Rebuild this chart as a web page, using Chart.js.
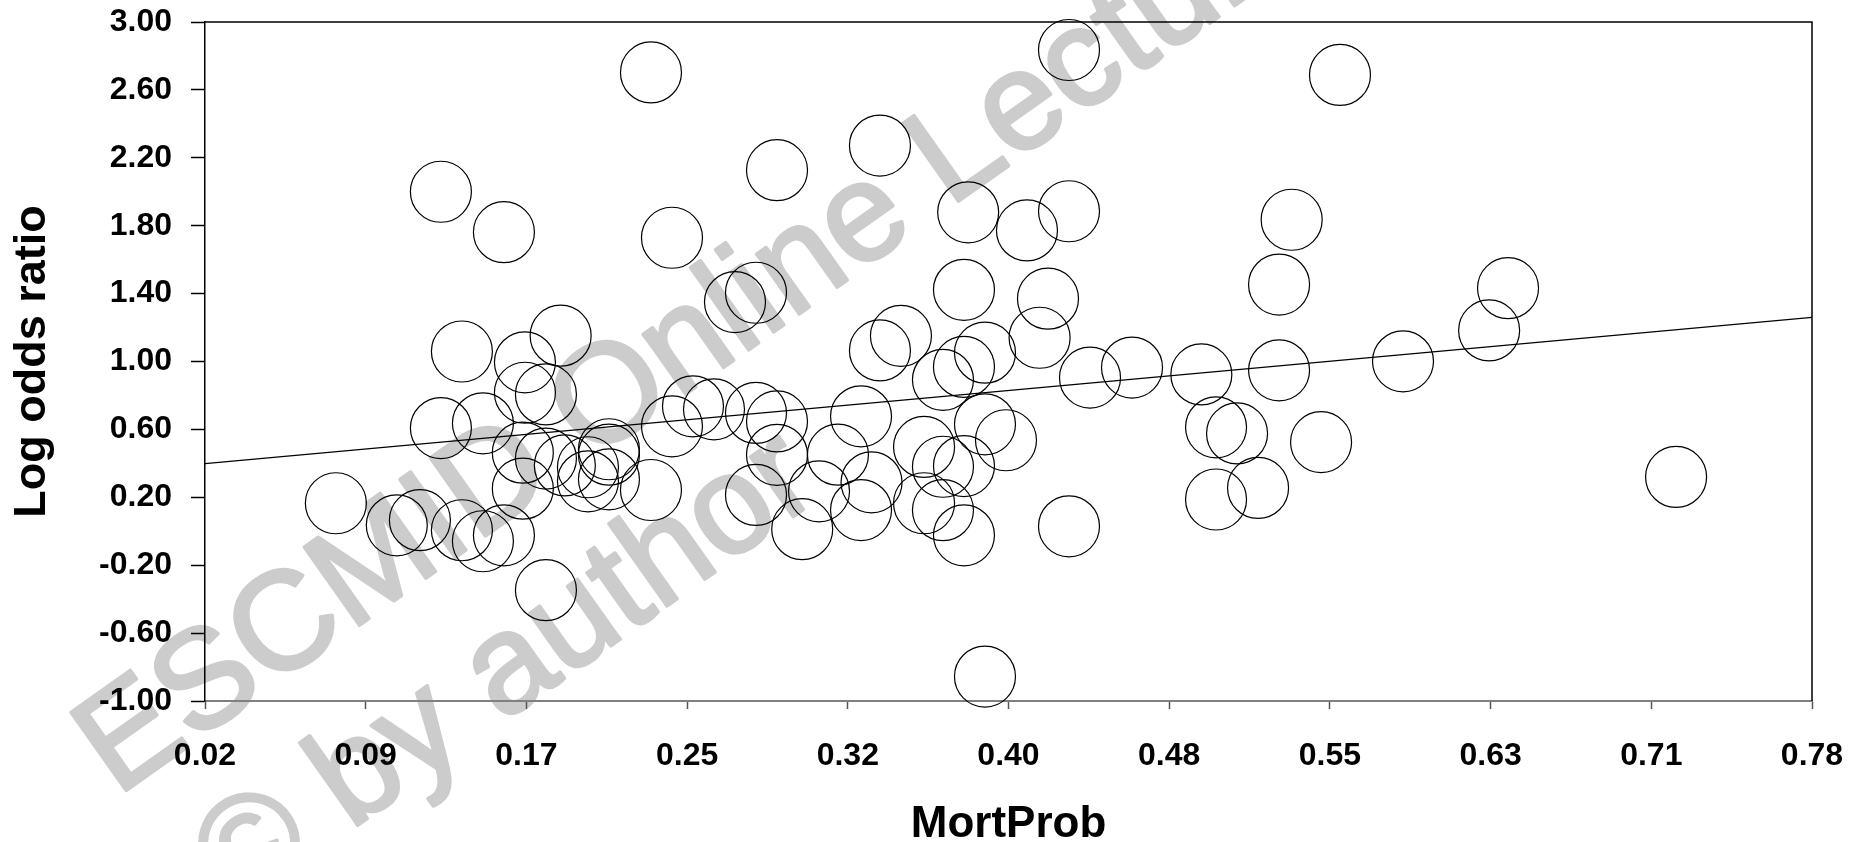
<!DOCTYPE html>
<html>
<head>
<meta charset="utf-8">
<script src="https://cdn.jsdelivr.net/npm/chart.js@4.4.1/dist/chart.umd.min.js"></script>
<style>
  html, body { margin: 0; padding: 0; background: #ffffff; }
  #wrap { width: 1857px; height: 842px; }
</style>
</head>
<body>
<div id="wrap"><canvas id="oddsChart" width="1857" height="842"></canvas></div>
<script>
// values
const mortProb = [
  0.080, 0.109, 0.120, 0.140, 0.150, 0.160, 0.180, 0.130, 0.160, 0.140,
  0.170, 0.187, 0.170, 0.180, 0.130, 0.150, 0.169, 0.169, 0.180, 0.189,
  0.200, 0.210, 0.210, 0.200, 0.210, 0.230, 0.230, 0.290, 0.339, 0.240,
  0.270, 0.280, 0.381, 0.409, 0.429, 0.379, 0.419, 0.339, 0.349, 0.369,
  0.379, 0.389, 0.415, 0.439, 0.459, 0.492, 0.429, 0.240, 0.250, 0.260,
  0.280, 0.290, 0.290, 0.280, 0.302, 0.310, 0.319, 0.330, 0.335, 0.360,
  0.369, 0.379, 0.360, 0.369, 0.379, 0.389, 0.399, 0.389, 0.429, 0.330,
  0.535, 0.529, 0.558, 0.529, 0.499, 0.509, 0.549, 0.519, 0.499, 0.588,
  0.629, 0.638, 0.718
];
const logOdds = [
  0.165, 0.035, 0.065, 0.006, -0.059, -0.024, -0.347, 2.000, 1.762, 1.059,
  0.995, 1.152, 0.816, 0.806, 0.608, 0.636, 0.463, 0.251, 0.428, 0.388,
  0.377, 0.483, 0.451, 0.294, 0.306, 0.243, 2.703, 2.127, 2.272, 1.729,
  1.350, 1.405, 1.879, 1.772, 1.885, 1.422, 1.370, 1.065, 1.151, 0.892,
  0.968, 1.052, 1.140, 0.905, 0.964, 0.924, 2.835, 0.618, 0.736, 0.718,
  0.697, 0.647, 0.450, 0.214, 0.012, 0.235, 0.451, 0.677, 0.288, 0.497,
  0.380, 0.384, 0.165, 0.124, -0.024, 0.630, 0.536, -0.856, 0.029, 0.125,
  1.835, 1.453, 2.688, 0.948, 0.612, 0.576, 0.525, 0.255, 0.187, 1.001,
  1.183, 1.432, 0.320
];

// fitted line, two ends
const fitX = [0.0177, 0.7827];
const fitY = [0.398, 1.26];

// axes
const xMin = 0.0177;
const xStep = 0.0765;
const xTickLabels = ["0.02", "0.09", "0.17", "0.25", "0.32", "0.40", "0.48", "0.55", "0.63", "0.71", "0.78"];
const yMin = -1;
const yStep = 0.4;
const yTickLabels = ["-1.00", "-0.60", "-0.20", "0.20", "0.60", "1.00", "1.40", "1.80", "2.20", "2.60", "3.00"];

const watermarkLines = ["ESCMID Online Lecture Library", "© by author"];

const FONT = '"Liberation Sans", Arial, Helvetica, sans-serif';

const myPoints = mortProb.map((x, i) => ({ x: x, y: logOdds[i] }));
const myFitLine = fitX.map((x, i) => ({ x: x, y: fitY[i] }));

const backgroundPlugin = {
  id: "background",
  beforeDraw(chart) {
    const ctx = chart.ctx;
    ctx.save();
    ctx.fillStyle = "#ffffff";
    ctx.fillRect(0, 0, chart.width, chart.height);

    // watermark, under everything
    ctx.fillStyle = "#cccccc";
    ctx.strokeStyle = "#cccccc";
    ctx.lineWidth = 3.5;
    ctx.lineJoin = "round";
    ctx.font = "139px " + FONT;
    ctx.textBaseline = "alphabetic";
    ctx.translate(117, 797);
    ctx.rotate((-35.3 * Math.PI) / 180);
    ctx.fillText(watermarkLines[0], 0, 0);
    ctx.strokeText(watermarkLines[0], 0, 0);
    ctx.fillText(watermarkLines[1], 30, 162);
    ctx.strokeText(watermarkLines[1], 30, 162);
    ctx.restore();
  },
};

const framePlugin = {
  id: "frame",
  afterDraw(chart) {
    const { left, right, top, bottom } = chart.chartArea;
    const ctx = chart.ctx;
    ctx.save();
    ctx.strokeStyle = "#000000";
    ctx.lineWidth = 1.5;
    ctx.beginPath();
    ctx.moveTo(left, top);
    ctx.lineTo(right, top);
    ctx.lineTo(right, bottom);
    ctx.stroke();
    ctx.restore();
  },
};

const ctx = document.getElementById("oddsChart").getContext("2d");
new Chart(ctx, {
  type: "scatter",
  data: {
    datasets: [
      {
        data: myPoints,
        pointStyle: "circle",
        pointRadius: 30.5,
        pointBorderWidth: 1.2,
        pointBorderColor: "#000000",
        pointBackgroundColor: "rgba(0,0,0,0)",
        clip: false,
      },
      {
        type: "line",
        data: myFitLine,
        borderColor: "#000000",
        borderWidth: 1.2,
        pointRadius: 0,
        fill: false,
      },
    ],
  },
  options: {
    responsive: false,
    animation: false,
    devicePixelRatio: 1,
    layout: { autoPadding: false, padding: { top: 22, right: 45, bottom: 0, left: 0 } },
    plugins: {
      legend: { display: false },
      tooltip: { enabled: false },
    },
    scales: {
      x: {
        type: "linear",
        min: xMin,
        max: xMin + xStep * (xTickLabels.length - 1),
        afterBuildTicks: (scale) => {
          scale.ticks = xTickLabels.map((_, i) => ({ value: xMin + i * xStep }));
        },
        afterFit: (scale) => {
          scale.height = 141;
          scale.paddingLeft = 0;
          scale.paddingRight = 0;
        },
        grid: {
          drawOnChartArea: false,
          drawTicks: true,
          tickLength: 8,
          tickColor: "#555555",
          tickWidth: 1.5,
        },
        border: { display: true, color: "#808080", width: 2 },
        ticks: {
          autoSkip: false,
          maxRotation: 0,
          padding: 28,
          color: "#000000",
          font: { family: FONT, size: 32, weight: "bold" },
          callback: (value, index) => xTickLabels[index],
        },
        title: {
          display: true,
          text: "MortProb",
          color: "#000000",
          padding: 0,
          font: { family: FONT, size: 44, weight: "bold", lineHeight: 0.8 },
        },
      },
      y: {
        type: "linear",
        min: yMin,
        max: yMin + yStep * (yTickLabels.length - 1),
        afterBuildTicks: (scale) => {
          scale.ticks = yTickLabels.map((_, i) => ({ value: yMin + i * yStep }));
        },
        afterFit: (scale) => {
          scale.width = 205;
          scale.paddingTop = 0;
          scale.paddingBottom = 0;
        },
        grid: {
          drawOnChartArea: false,
          drawTicks: true,
          tickLength: 14,
          tickColor: "#000000",
          tickWidth: 1.5,
        },
        border: { display: true, color: "#000000", width: 1.5 },
        ticks: {
          autoSkip: false,
          padding: 19,
          color: "#000000",
          font: { family: FONT, size: 32, weight: "bold" },
          callback: (value, index) => yTickLabels[index],
        },
        title: {
          display: true,
          text: "Log odds ratio",
          color: "#000000",
          padding: { top: 15, bottom: 0 },
          font: { family: FONT, size: 45, weight: "bold", lineHeight: 0.8 },
        },
      },
    },
  },
  plugins: [backgroundPlugin, framePlugin],
});
</script>
</body>
</html>
